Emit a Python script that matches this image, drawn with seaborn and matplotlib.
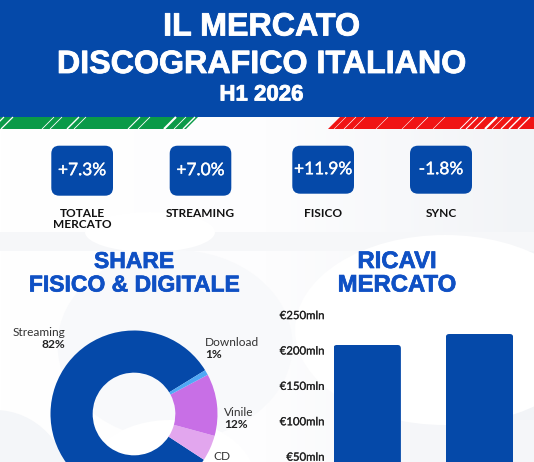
import matplotlib
matplotlib.use("Agg")
import matplotlib.pyplot as plt
import matplotlib.patheffects as pe
from matplotlib.patches import Ellipse, FancyBboxPatch, Polygon, Rectangle
import numpy as np
import pandas as pd
import seaborn as sns

# ---- data ----
kpi_values = ["+7.3%", "+7.0%", "+11.9%", "-1.8%"]
kpi_names = ["TOTALE\nMERCATO", "STREAMING", "FISICO", "SYNC"]
share_labels = ["Streaming", "CD", "Vinile", "Download"]
share_values = [82, 5, 12, 1]
revenue_periods = ["H1 2025", "H1 2026"]
revenue_values = [208.5, 224]
revenue_ticks = [50, 100, 150, 200, 250]

BLUE = "#0549A9"
TITLE_BLUE = "#0F50C4"
share_colors = [BLUE, "#E2A6EE", "#C86FE6", "#4FA8F5"]

W, H = 534, 462
sns.set_theme(style="white")
plt.rcParams["font.family"] = ["Lato", "DejaVu Sans"]

fig = plt.figure(figsize=(W / 100, H / 100), dpi=100, facecolor="white")


def px_axes(left, top, right, bottom, **kw):
    return fig.add_axes([left / W, 1 - bottom / H, (right - left) / W, (bottom - top) / H], **kw)


def heavy(width, color):
    return [pe.withStroke(linewidth=width, foreground=color)]


# ---- background / overlay in pixel coordinates ----
bg = px_axes(0, 0, W, H, zorder=0)
bg.axis("off")

grad = np.linspace(0, 1, 200).reshape(1, -1)
bg.imshow(grad, extent=(0, W, H, 117), cmap=matplotlib.colors.LinearSegmentedColormap.from_list(
    "g", ["#FFFFFF", "#FDFDFE", "#F2F4F7"]), aspect="auto", zorder=0)
bg.set_xlim(0, W)
bg.set_ylim(H, 0)
bg.add_patch(Rectangle((0, 232), 534, 19, color="#F6F7F9", lw=0, zorder=0.5))
bg.add_patch(Ellipse((150, 232), 130, 40, color="#FFFFFF", lw=0, zorder=0.55))
bg.add_patch(Ellipse((175, 345), 235, 190, color="#F8F9FB", lw=0, zorder=0.6))
bg.add_patch(Ellipse((-5, 490), 150, 160, color="#F4F6F9", lw=0, zorder=0.7))
bg.add_patch(Ellipse((170, 480), 170, 120, color="#FFFFFF", lw=0, zorder=0.75))
bg.add_patch(Ellipse((445, 330), 300, 190, color="#FFFFFF", lw=0, zorder=0.65))
bg.add_patch(Rectangle((410, 420), 124, 42, color="#F5F6F9", lw=0, zorder=0.6))

# header
bg.add_patch(Rectangle((0, 0), W, 117, color=BLUE, lw=0, zorder=2))
bg.add_patch(Polygon([(0, 117), (198, 117), (186, 129), (0, 129)], color="#0A9A48", lw=0, zorder=2))
bg.add_patch(Polygon([(340, 117), (W, 117), (W, 129), (328, 129)], color="#F01414", lw=0, zorder=2))
for x0, lw in [(4, .9), (13, .9), (54, .6), (62, .6), (79, 1.0), (86, .6), (140, .8), (150, .6), (176, 1.5),
               (186, .6), (195, 1.0),
               (346, .4), (356, .5), (365, .4), (388, .4), (414, .4), (428, .5), (445, .4), (472, .7), (478, .8),
               (486, .8), (497, 1.5), (504, .5), (513, .9), (521, 1.0), (530, .9)]:
    bg.plot([x0 - 12, x0], [129, 117], color="white", lw=lw, zorder=2.5, solid_capstyle="butt")

title_kw = dict(family="Liberation Sans", weight="bold", color="white", ha="center", va="center", zorder=3,
                path_effects=heavy(0.6, "white"))
bg.text(261.5, 27.5, "IL MERCATO", fontsize=23.2, **title_kw)
bg.text(261.5, 65, "DISCOGRAFICO ITALIANO", fontsize=23.2, **title_kw)
bg.text(261.5, 95, "H1 2026", fontsize=16, **title_kw)

# KPI badges
boxes = [(51.3, 113, 145.7, 195.7), (169.7, 231.3, 145.7, 195.7), (292.3, 354, 145.7, 193.7), (410, 472, 145.7, 193.7)]
for (x0, x1, y0, y1), val, name in zip(boxes, kpi_values, kpi_names):
    bg.add_patch(FancyBboxPatch((x0, y0), x1 - x0, y1 - y0, boxstyle="round,pad=0,rounding_size=8",
                                fc=BLUE, ec="none", zorder=3))
    cx = (x0 + x1) / 2
    bg.text(cx, (y0 + y1) / 2 - 0.5, val, color="white", fontsize=12.5,
            ha="center", va="center", zorder=4, path_effects=heavy(0.25, "white"))
    bg.text(cx, 208, name, color="#111111", fontsize=8.6, weight="bold", ha="center", va="top",
            linespacing=1.02, zorder=4)

# section titles
sec_kw = dict(family="Liberation Sans", weight="bold", color=TITLE_BLUE, ha="center", va="center",
              zorder=4, path_effects=heavy(0.5, TITLE_BLUE))
bg.text(134, 261.5, "SHARE", fontsize=16.5, **sec_kw)
bg.text(134, 285, "FISICO & DIGITALE", fontsize=16.5, **sec_kw)
bg.text(397, 261.5, "RICAVI", fontsize=17.2, **sec_kw)
bg.text(397, 285, "MERCATO", fontsize=17.2, **sec_kw)

# ---- donut ----
R = 83.5
pie_ax = px_axes(134 - R, 414 - R, 134 + R, 414 + R, zorder=2)
pie_ax.patch.set_visible(False)
pie_ax.pie(share_values, colors=share_colors, startangle=31.6, radius=1, counterclock=True,
           wedgeprops=dict(width=0.505, lw=0))
pie_ax.set_xlim(-1, 1)
pie_ax.set_ylim(-1, 1)

lab_kw = dict(color="#333333", fontsize=8.6, va="center", zorder=5)
num_kw = dict(color="#222222", fontsize=8.6, weight="bold", va="center", zorder=5)
label_pos = {"Streaming": (65, 333, "right"), "Download": (205, 343, "left"),
             "Vinile": (224, 413, "left"), "CD": (213, 456, "left")}
for name, val in zip(share_labels, share_values):
    x, y, ha = label_pos[name]
    bg.text(x, y, name, ha=ha, **lab_kw)
    if y + 12 < H:
        bg.text(x, y + 12, f"{val}%", ha=ha, **num_kw)

# ---- bars ----
y0_px = 351 + 4 * 35.4  # pixel row of value 0
ax = px_axes(330, 351 - 35.4, W, y0_px, zorder=2)
ax.patch.set_visible(False)
df = pd.DataFrame({"period": revenue_periods, "value": revenue_values})
sns.barplot(data=df, x="period", y="value", color=BLUE, saturation=1, width=0.6, ax=ax)
ax.set_xlim((330 - 367.2) / 112.3, (W - 367.2) / 112.3)
ax.set_ylim(0, 250)
ax.set_yticks(revenue_ticks)
ax.set_yticklabels([f"€{v}mln" for v in revenue_ticks], fontsize=8.2, color="#222222",
                   path_effects=heavy(0.15, "#222222"), va="center")
ax.tick_params(axis="y", length=0, pad=4)
ax.tick_params(axis="x", length=0, labelbottom=False)
ax.set_xlabel("")
ax.set_ylabel("")
sns.despine(ax=ax, left=True, bottom=True)
for bar in ax.patches:
    clip = FancyBboxPatch((bar.get_x(), 0), bar.get_width(), bar.get_height(),
                          boxstyle="round,pad=0,rounding_size=0.03", mutation_aspect=160,
                          transform=ax.transData)
    bar.set_clip_path(clip)
    bar.set_linewidth(0)

fig.savefig("out.png", dpi=100)
